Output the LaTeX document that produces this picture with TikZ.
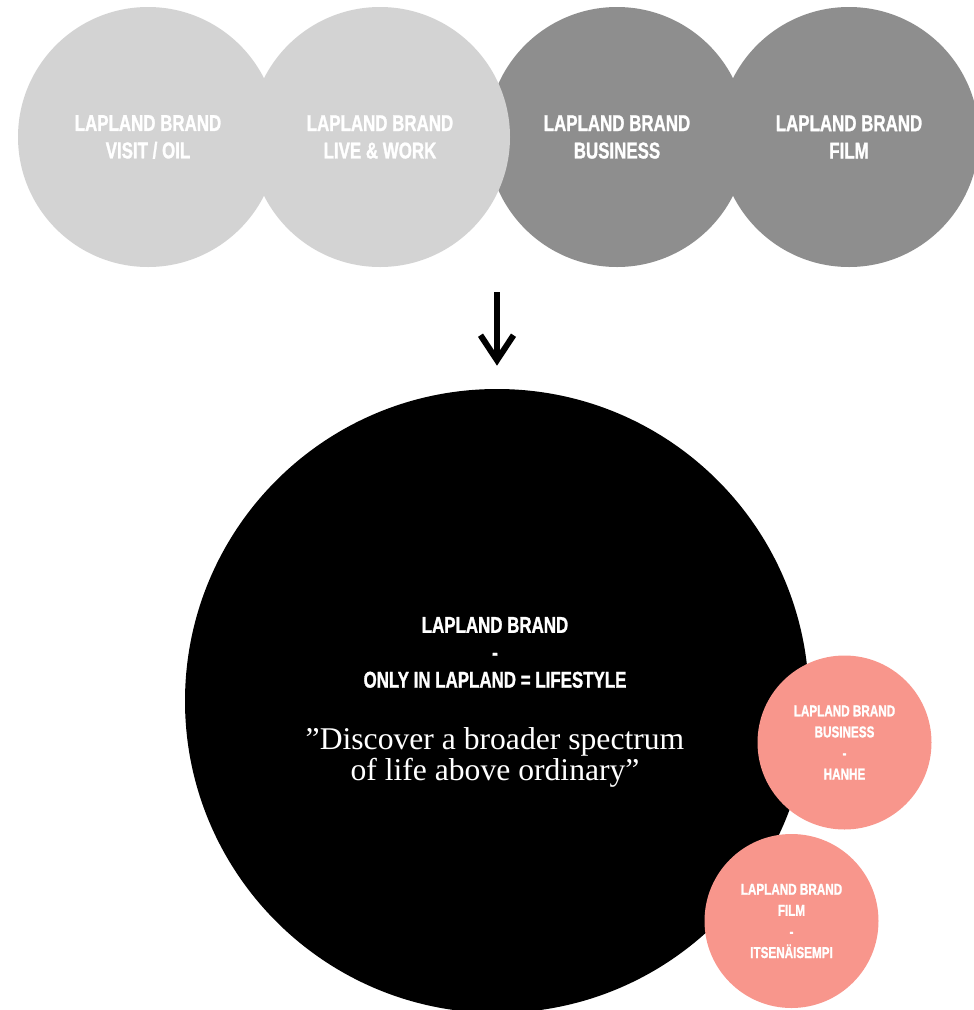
\documentclass[tikz,border=0pt]{standalone}
\usepackage{fontspec}
\setmainfont{Liberation Serif}
\newfontfamily\brandfont[FakeStretch=0.74, FakeBold=1.2]{Liberation Sans}
\usetikzlibrary{positioning, arrows.meta}
\definecolor{mylightgray}{RGB}{211,211,211}
\definecolor{mydarkgray}{RGB}{142,142,142}
\definecolor{mypink}{RGB}{248,150,140}

\begin{document}
\begin{tikzpicture}[
  brand/.style={circle, minimum size=5.2cm, inner sep=0pt, text=white, align=center,
    font=\brandfont\bfseries\fontsize{13}{15.6}\selectfont},
  subbrand/.style={circle, fill=mypink, minimum size=3.48cm, inner sep=0pt, text=white, align=center,
    font=\brandfont\bfseries\fontsize{9}{12}\selectfont}
]
\useasboundingbox (0,0) rectangle (19.48,-20.2);

% dark circles
\node[brand, fill=mydarkgray] (business) at (12.34,-2.74) {LAPLAND BRAND\\BUSINESS};
\node[brand, fill=mydarkgray] (film) at (16.98,-2.74) {LAPLAND BRAND\\FILM};

% light circles
\node[brand, fill=mylightgray] (visit) at (2.96,-2.74) {LAPLAND BRAND\\VISIT / OIL};
\node[brand, fill=mylightgray] (live) at (7.60,-2.74) {LAPLAND BRAND\\LIVE \& WORK};

% Lapland brand circle
\node[circle, fill=black, minimum size=12.48cm, inner sep=0pt] (main) at (9.94,-14.02) {};
\node[text=white, align=center, font=\brandfont\bfseries\fontsize{13}{15.6}\selectfont]
  (slogan) at (9.9,-13.05) {LAPLAND BRAND\\-\\ONLY IN LAPLAND = LIFESTYLE};
\node[text=white, align=center, font=\fontsize{18}{17.6}\selectfont]
  (quote) at (9.9,-15.15) {”Discover a broader spectrum\\of life above ordinary”};

% arrow
\coordinate (arrowtop) at (9.94,-5.84);
\draw[line width=0.12cm, -{Straight Barb[length=0.5cm, width=0.66cm]}] (arrowtop) -- ([yshift=0.46cm]main.north);

% pink circles
\node[subbrand] (hanhe) at (16.89,-14.85) {LAPLAND BRAND\\BUSINESS\\-\\HANHE};
\node[subbrand] (itsenaisempi) at (15.83,-18.42) {LAPLAND BRAND\\FILM\\-\\ITSENÄISEMPI};
\end{tikzpicture}
\end{document}
